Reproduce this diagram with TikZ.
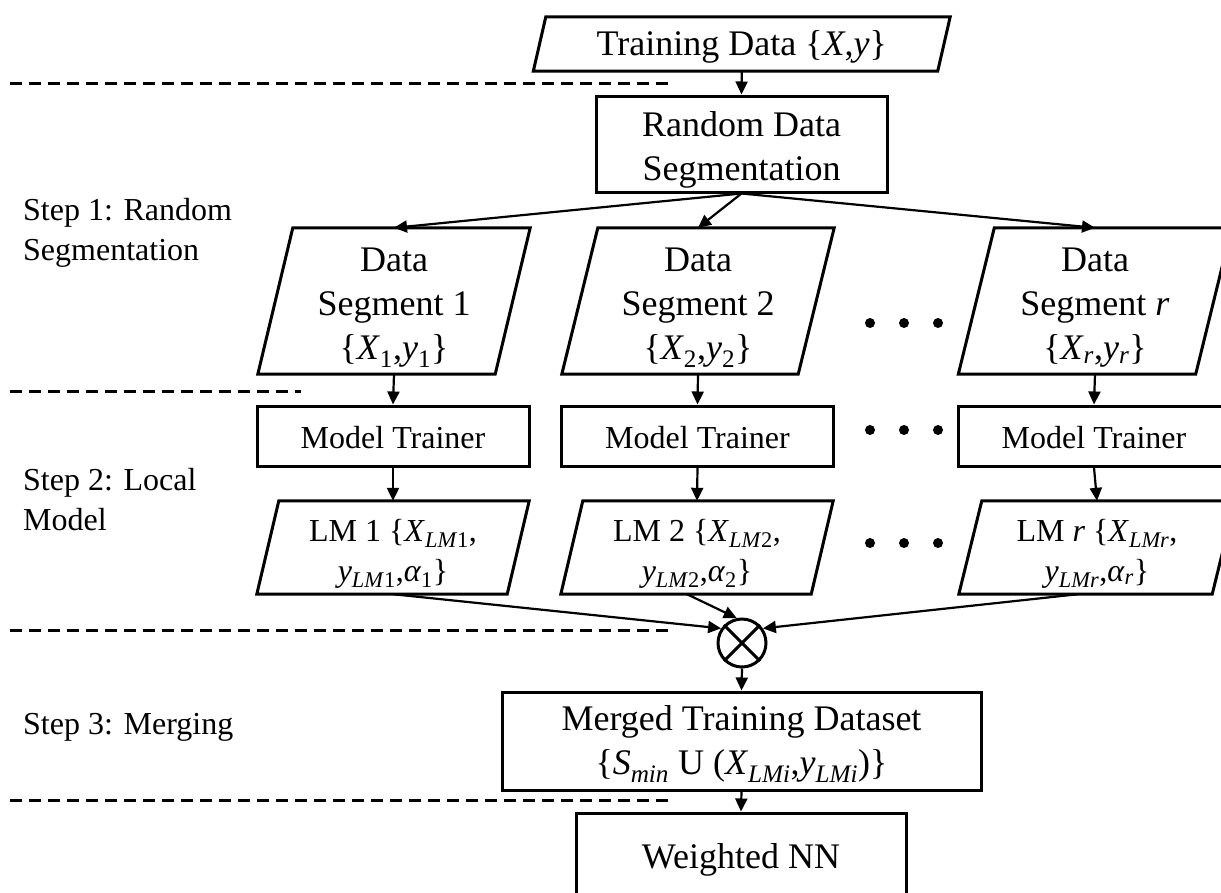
\documentclass[tikz,border=0pt]{standalone}
\usepackage{fontspec}
\setmainfont{Liberation Serif}
\usetikzlibrary{arrows.meta}

\tikzset{
  big/.style={font=\fontsize{36}{44}\selectfont},
  small/.style={font=\fontsize{32}{40}\selectfont},
  blk/.style={draw, line width=3pt, inner sep=0pt},
  slot/.style={inner sep=0pt},
  txt/.style={inner sep=0pt, align=center},
  flow/.style={line width=2.2pt, -{Triangle[length=13pt,width=12pt]}},
  sep/.style={line width=3pt, dash pattern=on 12pt off 7pt},
  dot/.style={circle, fill=black, inner sep=0pt, minimum size=10pt},
  steplabel/.style={small, anchor=west, align=left, inner sep=0pt},
}

% outline of a slanted (data) box around a named holder node
\newcommand{\slantbox}[2]{%
  \draw[line width=3pt, line join=miter]
    ([xshift=#2pt]#1.north west) -- ([xshift=#2pt]#1.north east) --
    ([xshift=-#2pt]#1.south east) -- ([xshift=-#2pt]#1.south west) -- cycle;}

\begin{document}
\begin{tikzpicture}[x=1pt,y=-1pt]
\useasboundingbox (0,0) rectangle (1221,892);
\clip (0,0) rectangle (1221,892);

% separators between the steps
\draw[sep] (10,83) -- (673,83);
\draw[sep] (10,391) -- (301,391);
\draw[sep] (10,630) -- (674,630);
\draw[sep] (10,800) -- (674,800);

% step labels
\node[steplabel] (step1) at (23,233) {Step 1: Random\\Segmentation};
\node[steplabel] (step2) at (23,500) {Step 2: Local\\Model};
\node[steplabel] (step3) at (23,727) {Step 3: Merging};

% input data
\node[slot, minimum width=404pt, minimum height=54pt] (train) at (741.75,44) {};
\slantbox{train}{6.25}
\node[txt, big] (traintext) at ([yshift=-3pt]train.center) {Training Data \{\textit{X},\textit{y}\}};

\node[blk, minimum width=291pt, minimum height=96pt] (rand) at (741.5,144) {};
\node[txt, big] (randtext) at ([yshift=-6pt]rand.center) {Random Data\\Segmentation};

% data segments
\node[slot, minimum width=237pt, minimum height=146pt] (seg1) at (394,301) {};
\slantbox{seg1}{17.5}
\node[txt, big] (seg1text) at ([yshift=-7pt]seg1.center)
  {Data\\Segment 1\\\{\textit{X}\textsubscript{1},\textit{y}\textsubscript{1}\}};
\node[slot, minimum width=236pt, minimum height=146pt] (seg2) at (698,301) {};
\slantbox{seg2}{18}
\node[txt, big] (seg2text) at ([yshift=-7pt]seg2.center)
  {Data\\Segment 2\\\{\textit{X}\textsubscript{2},\textit{y}\textsubscript{2}\}};
\node[slot, minimum width=237pt, minimum height=146pt] (segr) at (1095,301) {};
\slantbox{segr}{18}
\node[txt, big] (segrtext) at ([yshift=-7pt]segr.center)
  {Data\\Segment \textit{r}\\\{\textit{X}\textsubscript{\textit{r}},\textit{y}\textsubscript{\textit{r}}\}};

% model trainers
\node[blk, minimum width=272pt, minimum height=60pt] (mt1) at (393,436) {};
\node[txt, small] (mt1text) at ([yshift=-2pt]mt1.center) {Model Trainer};
\node[blk, minimum width=272pt, minimum height=60pt] (mt2) at (697.5,436) {};
\node[txt, small] (mt2text) at ([yshift=-2pt]mt2.center) {Model Trainer};
\node[blk, minimum width=272pt, minimum height=60pt] (mtr) at (1094,436) {};
\node[txt, small] (mtrtext) at ([yshift=-2pt]mtr.center) {Model Trainer};

% local models
\node[slot, minimum width=250pt, minimum height=93pt] (lm1) at (393,547.5) {};
\slantbox{lm1}{11}
\node[txt, small] (lm1text) at ([yshift=-6pt]lm1.center)
  {LM 1 \{\textit{X}\textsubscript{\textit{LM}1},\\\textit{y}\textsubscript{\textit{LM}1},\textit{α}\textsubscript{1}\}};
\node[slot, minimum width=250pt, minimum height=93pt] (lm2) at (697,547.5) {};
\slantbox{lm2}{11}
\node[txt, small] (lm2text) at ([yshift=-6pt]lm2.center)
  {LM 2 \{\textit{X}\textsubscript{\textit{LM}2},\\\textit{y}\textsubscript{\textit{LM}2},\textit{α}\textsubscript{2}\}};
\node[slot, minimum width=253pt, minimum height=93pt] (lmr) at (1097,547.5) {};
\slantbox{lmr}{11.5}
\node[txt, small] (lmrtext) at ([yshift=-6pt]lmr.center)
  {LM \textit{r} \{\textit{X}\textsubscript{\textit{LMr}},\\\textit{y}\textsubscript{\textit{LMr}},\textit{α}\textsubscript{\textit{r}}\}};

% ellipsis dots
\foreach \r/\yy in {a/323, b/430, c/543} {
  \node[dot] (dot\r1) at (870,\yy) {};
  \node[dot] (dot\r2) at (904,\yy) {};
  \node[dot] (dot\r3) at (938,\yy) {};
}

% merge operator
\node[circle, draw, line width=3pt, minimum size=48pt, inner sep=0pt] (mrg) at (742,643) {};
\draw[line width=3pt] (mrg.north west) -- (mrg.south east)
                      (mrg.north east) -- (mrg.south west);

\node[blk, minimum width=479pt, minimum height=98pt] (merged) at (741.5,741) {};
\node[txt, big] (mergedtext) at ([yshift=-3pt]merged.center)
  {Merged Training Dataset\\\{\textit{S}\textsubscript{\textit{min}} U (\textit{X}\textsubscript{\textit{LMi}},\textit{y}\textsubscript{\textit{LMi}})\}};

\node[blk, minimum width=330pt, minimum height=90pt] (wnn) at (741,858) {};
\node[txt, big] (wnntext) at ([yshift=-2pt]wnn.center) {Weighted NN};

% connectors
\draw[flow] (train.south) -- (rand.north);
\draw[flow] (rand.south) -- (seg1.north);
\draw[flow] (rand.south) -- (seg2.north);
\draw[flow] (rand.south) -- (segr.north);
\draw[flow] (seg1.south) -- (mt1.north);
\draw[flow] (seg2.south) -- (mt2.north);
\draw[flow] (segr.south) -- (mtr.north);
\draw[flow] (mt1.south) -- (lm1.north);
\draw[flow] (mt2.south) -- (lm2.north);
\draw[flow] (mtr.south) -- (lmr.north);
\draw[flow] (lm1.south) -- (mrg.145);
\draw[flow] ([xshift=-10pt]lm2.south) -- (mrg.102);
\draw[flow] ([xshift=-19pt]lmr.south) -- (mrg.35);
\draw[flow] (mrg.south) -- (merged.north);
\draw[flow] (merged.south) -- (wnn.north);
\end{tikzpicture}
\end{document}
